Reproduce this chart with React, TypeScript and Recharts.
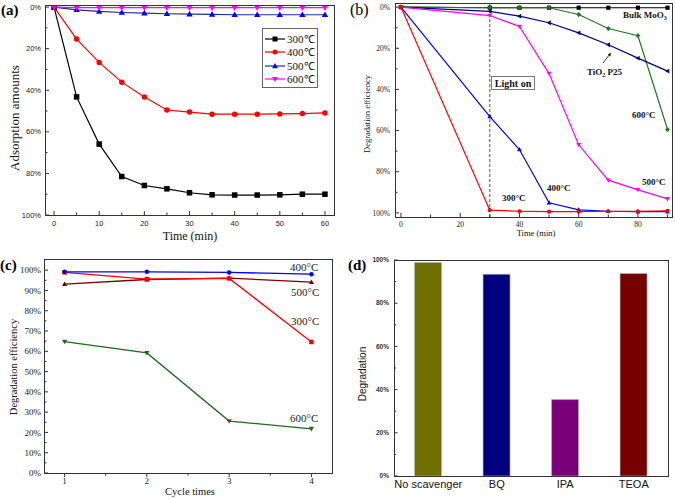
import React from 'react';
import { LineChart, Line, BarChart, Bar, XAxis, YAxis, ReferenceLine, Cell } from 'recharts';

const SERIF = '"Liberation Serif", "Times New Roman", serif';
const SANS = '"Liberation Sans", Arial, sans-serif';

// ---------- Panel (a) data ----------
const aTime = [0, 5, 10, 15, 20, 25, 30, 35, 40, 45, 50, 55, 60];
const a300 = [0, 43.2, 65.9, 81.5, 85.8, 87.4, 89.3, 90.3, 90.4, 90.4, 90.3, 90.0, 90.0];
const a400 = [0, 15.4, 26.6, 36.1, 43.3, 49.5, 50.5, 51.5, 51.5, 51.5, 51.4, 51.2, 50.9];
const a500 = [0, 1.3, 2.1, 2.6, 2.9, 3.2, 3.4, 3.5, 3.7, 3.7, 3.7, 3.7, 3.7];
const a600 = [0, 0.3, 0.3, 0.3, 0.3, 0.3, 0.3, 0.3, 0.3, 0.3, 0.3, 0.3, 0.3];
const aNames = ['300℃', '400℃', '500℃', '600℃'];
const aXMajor = [0, 10, 20, 30, 40, 50, 60];
const aXAll = [0, 5, 10, 15, 20, 25, 30, 35, 40, 45, 50, 55, 60];
const aYMajor = [0, 20, 40, 60, 80, 100];
const aYAll = [0, 10, 20, 30, 40, 50, 60, 70, 80, 90, 100];

// ---------- Panel (b) data ----------
const bTime = [0, 30, 40, 50, 60, 70, 80, 90];
const bBulk = [0, 0.3, 0.3, 0.3, 0.3, 0.3, 0.3, 0.3];
const b600 = [0, 0.3, 0.3, 0.3, 3.6, 10.4, 13.9, 59.5];
const bP25 = [0, 2.1, 4.4, 7.6, 12.5, 18.3, 24.8, 31.1];
const b500 = [0, 4.1, 9.4, 32.3, 66.9, 84.1, 88.8, 93.2];
const b400 = [0, 53.2, 69.2, 95.1, 98.5, 99.2, 99.4, 99.4];
const b300 = [0, 98.7, 99.2, 99.4, 99.4, 99.2, 99.2, 99.0];
const bXMajor = [0, 20, 40, 60, 80];
const bXAll = [0, 10, 20, 30, 40, 50, 60, 70, 80, 90];
const bYMajor = [0, 20, 40, 60, 80, 100];
const bYAll = [0, 10, 20, 30, 40, 50, 60, 70, 80, 90, 100];
const bLightOn = 30;

// ---------- Panel (c) data ----------
const cCycle = [1, 2, 3, 4];
const c400 = [99.2, 99.2, 98.9, 98.0];
const c500 = [93.1, 95.4, 96.1, 94.1];
const c300 = [98.9, 95.6, 95.9, 64.6];
const c600 = [64.8, 59.2, 25.6, 21.8];
const cXMajor = [1, 2, 3, 4];
const cXAll = [1, 1.5, 2, 2.5, 3, 3.5, 4];
const cYMajor = [0, 10, 20, 30, 40, 50, 60, 70, 80, 90, 100];
const cYAll = [0, 5, 10, 15, 20, 25, 30, 35, 40, 45, 50, 55, 60, 65, 70, 75, 80, 85, 90, 95, 100];

// ---------- Panel (d) data ----------
const dCats = ['No scavenger', 'BQ', 'IPA', 'TEOA'];
const dVals = [98.9, 93.4, 35.4, 93.7];
const dColors = ['#6f6f00', '#00007f', '#7a007a', '#770000'];
const dYMajor = [0, 20, 40, 60, 80, 100];
const dYAll = [0, 10, 20, 30, 40, 50, 60, 70, 80, 90, 100];

// ---------- tables ----------
const aData = aTime.map((t, i) => ({ t, s300: a300[i], s400: a400[i], s500: a500[i], s600: a600[i] }));
const bData = bTime.map((t, i) => ({ t, bulk: bBulk[i], s600: b600[i], p25: bP25[i], s500: b500[i], s400: b400[i], s300: b300[i] }));
const cData = cCycle.map((n, i) => ({ n, s400: c400[i], s500: c500[i], s300: c300[i], s600: c600[i] }));
const dData = dCats.map((name, i) => ({ name, v: dVals[i] }));

// ---------- layout ----------
const L = {
  a: { left: 0, top: 0, w: 340, h: 250, pl: 45, pr: 334, pt: 5, pb: 215 },
  b: { left: 335, top: 0, w: 340, h: 250, pl: 395, pr: 672, pt: 3, pb: 217 },
  c: { left: 0, top: 250, w: 340, h: 249, pl: 44, pr: 332, pt: 259, pb: 473 },
  d: { left: 335, top: 250, w: 340, h: 249, pl: 394, pr: 668, pt: 260, pb: 476 },
};
const dims = (p: any) => ({
  yw: p.pl - p.left,
  mr: p.left + p.w - p.pr,
  mt: p.pt - p.top,
  xh: p.top + p.h - p.pb,
});

// ---------- markers ----------
function Marker({ cx, cy, shape, size, fill }: any) {
  if (cx == null || cy == null) return null;
  const s = size / 2;
  switch (shape) {
    case 'square':
      return <rect x={cx - s} y={cy - s} width={size} height={size} fill={fill} />;
    case 'circle':
      return <circle cx={cx} cy={cy} r={s} fill={fill} />;
    case 'up':
      return <polygon points={`${cx},${cy - s * 1.2} ${cx - s * 1.15},${cy + s * 0.85} ${cx + s * 1.15},${cy + s * 0.85}`} fill={fill} />;
    case 'down':
      return <polygon points={`${cx},${cy + s * 1.2} ${cx - s * 1.15},${cy - s * 0.85} ${cx + s * 1.15},${cy - s * 0.85}`} fill={fill} />;
    case 'left':
      return <polygon points={`${cx - s * 1.2},${cy} ${cx + s * 0.85},${cy - s * 1.15} ${cx + s * 0.85},${cy + s * 1.15}`} fill={fill} />;
    case 'diamond':
      return <polygon points={`${cx},${cy - s * 1.25} ${cx + s * 1.1},${cy} ${cx},${cy + s * 1.25} ${cx - s * 1.1},${cy}`} fill={fill} />;
    default:
      return null;
  }
}

const dotFn = (shape: string, size: number, fill: string) => (p: any) => (
  <Marker key={`m-${p.index}`} cx={p.cx} cy={p.cy} shape={shape} size={size} fill={fill} />
);

// ---------- ticks ----------
type TickCfg = {
  axis: 'x' | 'y';
  majors: number[];
  inward: boolean;
  len: number;
  minor: number;
  gap: number;
  font: string;
  size: number;
  weight?: any;
  color: string;
  fmt: (v: any) => string;
};
const tickFn = (cfg: TickCfg) => (p: any) => {
  const v = p.payload.value;
  const isMajor = cfg.majors.some((m) => Math.abs(m - v) < 1e-9);
  const len = isMajor ? cfg.len : cfg.minor;
  if (cfg.axis === 'x') {
    const y2 = cfg.inward ? p.y - len : p.y + len;
    return (
      <g>
        <line x1={p.x} y1={p.y} x2={p.x} y2={y2} stroke="#333" strokeWidth={1} />
        {isMajor && (
          <text x={p.x} y={p.y + cfg.gap} textAnchor="middle" fontFamily={cfg.font} fontSize={cfg.size} fontWeight={cfg.weight} fill={cfg.color}>
            {cfg.fmt(v)}
          </text>
        )}
      </g>
    );
  }
  const x2 = cfg.inward ? p.x + len : p.x - len;
  return (
    <g>
      <line x1={p.x} y1={p.y} x2={x2} y2={p.y} stroke="#333" strokeWidth={1} />
      {isMajor && (
        <text x={p.x - cfg.gap} y={p.y} dy="0.35em" textAnchor="end" fontFamily={cfg.font} fontSize={cfg.size} fontWeight={cfg.weight} fill={cfg.color}>
          {cfg.fmt(v)}
        </text>
      )}
    </g>
  );
};
const pct = (v: any) => `${v}%`;
const num = (v: any) => `${v}`;

// ---------- series configs ----------
const aSeries = [
  { key: 's300', line: '#000000', dot: '#000000', shape: 'square' },
  { key: 's400', line: '#ff0000', dot: '#ff0000', shape: 'circle' },
  { key: 's500', line: '#2b2b8c', dot: '#0000ff', shape: 'up' },
  { key: 's600', line: '#ff00ff', dot: '#ff00ff', shape: 'down' },
];
const bSeries = [
  { key: 'bulk', line: '#000000', dot: '#000000', shape: 'square' },
  { key: 's600', line: '#1f7a1f', dot: '#1f7a1f', shape: 'diamond' },
  { key: 'p25', line: '#000080', dot: '#000080', shape: 'left' },
  { key: 's500', line: '#ff00ff', dot: '#ff00ff', shape: 'down' },
  { key: 's400', line: '#0000ff', dot: '#0000ff', shape: 'up' },
  { key: 's300', line: '#ff0000', dot: '#ff0000', shape: 'circle' },
];
const cSeries = [
  { key: 's600', line: '#1a6b1a', dot: '#1a6b1a', shape: 'down' },
  { key: 's500', line: '#7a0000', dot: '#7a0000', shape: 'up' },
  { key: 's300', line: '#ff0000', dot: '#ff0000', shape: 'square' },
  { key: 's400', line: '#0000ff', dot: '#0000ff', shape: 'circle' },
];

function PanelA() {
  const p = L.a;
  const d = dims(p);
  return (
    <div style={{ position: 'absolute', left: p.left, top: p.top }}>
      <LineChart width={p.w} height={p.h} data={aData} margin={{ top: d.mt, right: d.mr, left: 0, bottom: 0 }}>
        <XAxis type="number" dataKey="t" domain={[-2, 62]} ticks={aXAll} interval={0} allowDataOverflow height={d.xh}
          axisLine={false} tickLine={false} tickSize={0} tickMargin={0}
          tick={tickFn({ axis: 'x', majors: aXMajor, inward: true, len: 4, minor: 2.5, gap: 11, font: SANS, size: 7.5, color: '#222', fmt: num })} />
        <YAxis type="number" domain={[-1, 100]} reversed ticks={aYAll} interval={0} allowDataOverflow width={d.yw}
          axisLine={false} tickLine={false} tickSize={0} tickMargin={0}
          tick={tickFn({ axis: 'y', majors: aYMajor, inward: true, len: 4, minor: 2.5, gap: 4, font: SANS, size: 7.5, color: '#222', fmt: pct })} />
        {aSeries.map((s) => (
          <Line key={s.key} dataKey={s.key} stroke={s.line} strokeWidth={1.2} isAnimationActive={false}
            dot={dotFn(s.shape, 5.5, s.dot)} activeDot={false} />
        ))}
      </LineChart>
    </div>
  );
}

function PanelB() {
  const p = L.b;
  const d = dims(p);
  return (
    <div style={{ position: 'absolute', left: p.left, top: p.top }}>
      <LineChart width={p.w} height={p.h} data={bData} margin={{ top: d.mt, right: d.mr, left: 0, bottom: 0 }}>
        <XAxis type="number" dataKey="t" domain={[-2, 91.5]} ticks={bXAll} interval={0} allowDataOverflow height={d.xh}
          axisLine={false} tickLine={false} tickSize={0} tickMargin={0}
          tick={tickFn({ axis: 'x', majors: bXMajor, inward: true, len: 4, minor: 2.5, gap: 10, font: SERIF, size: 7.5, color: '#222', fmt: num })} />
        <YAxis type="number" domain={[-2, 102]} reversed ticks={bYAll} interval={0} allowDataOverflow width={d.yw}
          axisLine={false} tickLine={false} tickSize={0} tickMargin={0}
          tick={tickFn({ axis: 'y', majors: bYMajor, inward: true, len: 4, minor: 2.5, gap: 5, font: SERIF, size: 7.5, color: '#222', fmt: pct })} />
        <ReferenceLine x={bLightOn} stroke="#555" strokeDasharray="3 2" strokeWidth={1} />
        {bSeries.map((s) => (
          <Line key={s.key} dataKey={s.key} stroke={s.line} strokeWidth={1.2} isAnimationActive={false}
            dot={dotFn(s.shape, 4.2, s.dot)} activeDot={false} />
        ))}
      </LineChart>
    </div>
  );
}

function PanelC() {
  const p = L.c;
  const d = dims(p);
  return (
    <div style={{ position: 'absolute', left: p.left, top: p.top }}>
      <LineChart width={p.w} height={p.h} data={cData} margin={{ top: d.mt, right: d.mr, left: 0, bottom: 0 }}>
        <XAxis type="number" dataKey="n" domain={[0.75, 4.25]} ticks={cXAll} interval={0} allowDataOverflow height={d.xh}
          axisLine={false} tickLine={false} tickSize={0} tickMargin={0}
          tick={tickFn({ axis: 'x', majors: cXMajor, inward: false, len: 4, minor: 2.5, gap: 11, font: SERIF, size: 9, color: '#222', fmt: num })} />
        <YAxis type="number" domain={[0, 105.5]} ticks={cYAll} interval={0} allowDataOverflow width={d.yw}
          axisLine={false} tickLine={false} tickSize={0} tickMargin={0}
          tick={tickFn({ axis: 'y', majors: cYMajor, inward: true, len: 4, minor: 2.5, gap: 3, font: SERIF, size: 9, color: '#222', fmt: pct })} />
        {cSeries.map((s) => (
          <Line key={s.key} dataKey={s.key} stroke={s.line} strokeWidth={1.3} isAnimationActive={false}
            dot={dotFn(s.shape, 4.5, s.dot)} activeDot={false} />
        ))}
      </LineChart>
    </div>
  );
}

const dCatTick = (p: any) => (
  <text x={p.x} y={p.y + 12} textAnchor="middle" fontFamily={SANS} fontSize={11} fill="#111">
    {p.payload.value}
  </text>
);

function PanelD() {
  const p = L.d;
  const d = dims(p);
  return (
    <div style={{ position: 'absolute', left: p.left, top: p.top }}>
      <BarChart width={p.w} height={p.h} data={dData} margin={{ top: d.mt, right: d.mr, left: 0, bottom: 0 }} barCategoryGap="30%">
        <XAxis dataKey="name" interval={0} height={d.xh} axisLine={false} tickLine={false} tickSize={0} tickMargin={0} tick={dCatTick} />
        <YAxis type="number" domain={[0, 100]} ticks={dYAll} interval={0} allowDataOverflow width={d.yw}
          axisLine={false} tickLine={false} tickSize={0} tickMargin={0}
          tick={tickFn({ axis: 'y', majors: dYMajor, inward: true, len: 3.5, minor: 2, gap: 5, font: SANS, size: 6.5, weight: 'bold', color: '#333', fmt: pct })} />
        <Bar dataKey="v" isAnimationActive={false} stroke="#b8b8b8" strokeWidth={0.6}>
          {dData.map((_, i) => (
            <Cell key={i} fill={dColors[i]} />
          ))}
        </Bar>
      </BarChart>
    </div>
  );
}

function Box({ p }: any) {
  return <rect x={p.pl + 0.5} y={p.pt + 0.5} width={p.pr - p.pl} height={p.pb - p.pt} fill="none" stroke="#333" strokeWidth={1} />;
}

function Overlay() {
  const legendRows = [39, 52, 66, 79];
  return (
    <svg width={675} height={499} style={{ position: 'absolute', left: 0, top: 0, pointerEvents: 'none' }}>
      <Box p={L.a} />
      <Box p={L.b} />
      <Box p={L.c} />
      <Box p={L.d} />

      {/* panel labels */}
      <text x={1} y={15} fontFamily={SERIF} fontSize={15} fontWeight="bold" fill="#000">(a)</text>
      <text x={350} y={15} fontFamily={SERIF} fontSize={16} fill="#000">(b)</text>
      <text x={0} y={270} fontFamily={SERIF} fontSize={15} fontWeight="bold" fill="#000">(c)</text>
      <text x={348} y={270} fontFamily={SERIF} fontSize={15} fontWeight="bold" fill="#000">(d)</text>

      {/* (a) titles */}
      <text x={190} y={240} textAnchor="middle" fontFamily={SERIF} fontSize={12} fill="#111">Time (min)</text>
      <text transform="translate(19,118) rotate(-90)" textAnchor="middle" fontFamily={SERIF} fontSize={13} fill="#111">Adsorption amounts</text>

      {/* (a) legend */}
      <rect x={262.5} y={28.5} width={55} height={59} fill="#fff" stroke="#666" strokeWidth={1} />
      {aSeries.map((s, i) => (
        <g key={s.key}>
          <line x1={265} y1={legendRows[i]} x2={285} y2={legendRows[i]} stroke={s.line} strokeWidth={1.2} />
          <Marker cx={275} cy={legendRows[i]} shape={s.shape} size={5} fill={s.dot} />
          <text x={287} y={legendRows[i] + 4} fontFamily={SERIF} fontSize={11} fill="#111">{aNames[i]}</text>
        </g>
      ))}

      {/* (b) titles */}
      <text x={536} y={236} textAnchor="middle" fontFamily={SERIF} fontSize={8.5} fill="#111">Time (min)</text>
      <text transform="translate(370,114) rotate(-90)" textAnchor="middle" fontFamily={SERIF} fontSize={8.5} fill="#111">Degradation efficiency</text>

      {/* (b) annotations */}
      <rect x={491.5} y={76.5} width={43} height={13} fill="#fff" stroke="#777" strokeWidth={1} />
      <text x={513} y={86.5} textAnchor="middle" fontFamily={SERIF} fontSize={10} fontWeight="bold" fill="#111">Light on</text>
      <text x={623} y={18} fontFamily={SERIF} fontSize={9} fontWeight="bold" fill="#111">Bulk MoO<tspan fontSize={6} dy={2}>3</tspan></text>
      <text x={587} y={75} fontFamily={SERIF} fontSize={9} fontWeight="bold" fill="#111">TiO<tspan fontSize={6} dy={2}>2</tspan><tspan dy={-2}> P25</tspan></text>
      <line x1={603} y1={63} x2={610} y2={54} stroke="#111" strokeWidth={0.8} />
      <polygon points="611,52.5 607.8,54.8 610.4,56.6" fill="#111" />
      <text x={632} y={118} fontFamily={SERIF} fontSize={9} fontWeight="bold" fill="#111">600°C</text>
      <text x={642} y={185} fontFamily={SERIF} fontSize={9} fontWeight="bold" fill="#111">500°C</text>
      <text x={547} y={191} fontFamily={SERIF} fontSize={9} fontWeight="bold" fill="#111">400°C</text>
      <text x={502} y={201} fontFamily={SERIF} fontSize={9} fontWeight="bold" fill="#111">300°C</text>

      {/* (c) titles */}
      <text x={190} y={495} textAnchor="middle" fontFamily={SERIF} fontSize={10.5} fill="#111">Cycle times</text>
      <text transform="translate(17,367) rotate(-90)" textAnchor="middle" fontFamily={SERIF} fontSize={10.5} fill="#111">Degradation efficiency</text>
      <text x={290} y={271} fontFamily={SERIF} fontSize={11} fill="#222">400°C</text>
      <text x={291} y={296} fontFamily={SERIF} fontSize={11} fill="#222">500°C</text>
      <text x={291} y={325} fontFamily={SERIF} fontSize={11} fill="#222">300°C</text>
      <text x={290} y={422} fontFamily={SERIF} fontSize={11} fill="#222">600°C</text>

      {/* (d) title */}
      <text transform="translate(366,374) rotate(-90)" textAnchor="middle" fontFamily={SANS} fontSize={10} fill="#111">Degradation</text>
    </svg>
  );
}

export default function App() {
  return (
    <div style={{ position: 'absolute', left: 0, top: 0, width: 675, height: 499, background: '#fff', overflow: 'hidden' }}>
      <PanelA />
      <PanelB />
      <PanelC />
      <PanelD />
      <Overlay />
    </div>
  );
}
